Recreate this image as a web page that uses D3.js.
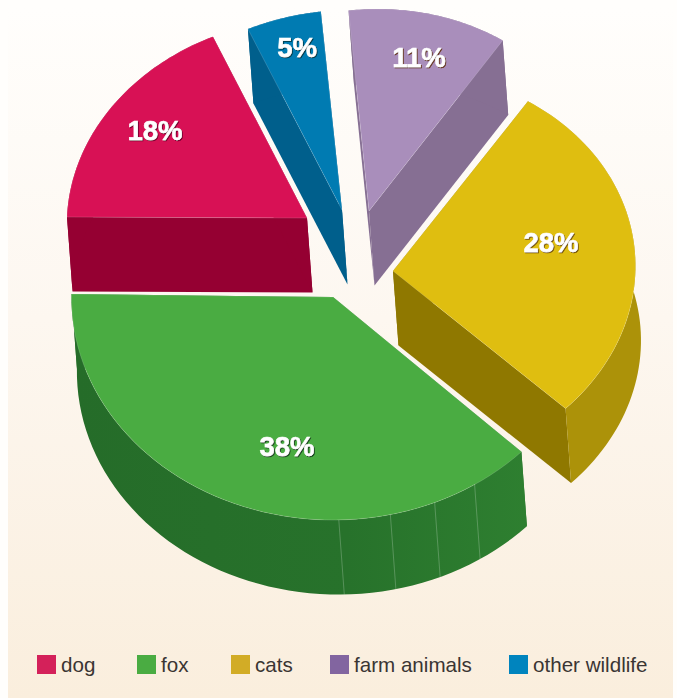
<!DOCTYPE html>
<html>
<head>
<meta charset="utf-8">
<script src="https://cdn.jsdelivr.net/npm/d3@7/dist/d3.min.js"></script>
<style>
html,body{margin:0;padding:0;background:#fff;}
svg{display:block;}
text{font-family:"Liberation Sans",Arial,Helvetica,sans-serif;}
</style>
</head>
<body>
<svg id="chart" width="677" height="698"></svg>
<script>
// Pie data, clockwise from the left edge of the "dog" slice
const categories = ["dog", "other wildlife", "farm animals", "cats", "fox"];
const shares = [18, 5, 11, 28, 38];

// Legend runs in its own order
const legendOrder = ["dog", "fox", "cats", "farm animals", "other wildlife"];

const topColors  = {"dog":"#D81155","other wildlife":"#007BB2","farm animals":"#A98EBB","cats":"#DFBE10","fox":"#4AAC42"};
const sideColors = {"dog":"#950032","other wildlife":"#005F8C","farm animals":"#866F93","cats":"#8F7800","fox":"#2B7A2E"};
const wallColors = {"dog":"#950032","other wildlife":"#005F8C","farm animals":"#866F93","cats":"#AC9209","fox":"url(#foxWall)"};
const legendColors = {"dog":"#D4215A","fox":"#4AAC42","cats":"#D2AC26","farm animals":"#8265A0","other wildlife":"#0084BE"};
const shadowColors = {"dog":"#7A0030","other wildlife":"#003F50","farm animals":"#6B3A20","cats":"#7A5A10","fox":"#1E4A22"};

// Where each wedge's tip sits once pulled apart, and how each wedge reads under the perspective:
// horizontal scale, vertical scale, shear and roll
const tips = {"dog":[307,218],"other wildlife":[342,210],"farm animals":[369,211],"cats":[393,271],"fox":[333,297]};
const perspective = {
  "dog":            [1,    1,     0.045, 0.004],
  "other wildlife": [1,    1,     0.045, 0],
  "farm animals":   [0.98, 1.01,  0.045, 0],
  "cats":           [1.01, 1.005, 0.03,  0],
  "fox":            [1.09, 1.115, 0.015, 0.011]
};
const labelOffsets = {"dog":[-152,-78],"other wildlife":[-45,-153],"farm animals":[50,-144],"cats":[158,-19],"fox":[-46,159]};

// Facet seams on the fox wall, in degrees clockwise from twelve o'clock
const foxSeams = [146.5, 156.4, 166.6, 178];

// Projection of the tilted disc
const RX = 240, RY = 200;
const DEPTH = [5.5, 74.5];

const svg = d3.select("#chart");
const defs = svg.append("defs");

const bg = defs.append("linearGradient").attr("id","panelFill").attr("x1",0).attr("x2",0).attr("y1",0).attr("y2",1);
bg.append("stop").attr("offset",0).attr("stop-color","#FFFEFC");
bg.append("stop").attr("offset",0.45).attr("stop-color","#FDF7F0");
bg.append("stop").attr("offset",1).attr("stop-color","#FAEEDD");

const fw = defs.append("linearGradient").attr("id","foxWall")
  .attr("gradientUnits","userSpaceOnUse").attr("x1",76).attr("x2",527).attr("y1",0).attr("y2",0);
fw.append("stop").attr("offset",0).attr("stop-color","#256C29");
fw.append("stop").attr("offset",0.6).attr("stop-color","#27722B");
fw.append("stop").attr("offset",1).attr("stop-color","#2E7F30");

categories.forEach(c => {
  const f = defs.append("filter").attr("id","lift-"+c.replace(" ","-"))
    .attr("x","-20%").attr("y","-20%").attr("width","140%").attr("height","140%");
  f.append("feDropShadow").attr("dx",1).attr("dy",1).attr("stdDeviation",0.4)
    .attr("flood-color",shadowColors[c]).attr("flood-opacity",1);
});

svg.append("rect").attr("width",677).attr("height",698).attr("fill","#FFFEFC");
svg.append("rect").attr("x",8).attr("y",8).attr("width",665).attr("height",690).attr("fill","url(#panelFill)");

const pie = d3.pie().sort(null).value(d => d.share)
  .startAngle(3*Math.PI/2).endAngle(3*Math.PI/2 + 2*Math.PI);
const slices = pie(categories.map((name,i) => ({name, share: shares[i]})));

const line = d3.line();
const rad = d => d*Math.PI/180;

function project(name, angle){
  const [cx,cy] = tips[name];
  const [sx,sy,shear,roll] = perspective[name];
  const x = RX*sx*Math.sin(angle) + shear*RY*sy*Math.cos(angle);
  const y = -RY*sy*Math.cos(angle) + roll*RX*sx*Math.sin(angle);
  return [cx+x, cy+y];
}
const arcPoints = (name,a0,a1) => d3.range(0,61).map(i => project(name, a0+(a1-a0)*i/60));
const drop = p => [p[0]+DEPTH[0], p[1]+DEPTH[1]];

const layer = svg.append("g");

// Paint from the back of the scene forward
["other wildlife","farm animals","dog","cats","fox"].forEach(name => {
  const d = slices.find(s => s.data.name === name);
  const tip = tips[name];
  const rim = arcPoints(name, d.startAngle, d.endAngle);
  const g = layer.append("g");

  [rim[0], rim[rim.length-1]].forEach(p => {
    g.append("path").attr("d", line([tip,p,drop(p),drop(tip)])+"Z").attr("fill",sideColors[name]);
  });
  g.append("path").attr("d", line(rim.concat(rim.map(drop).reverse()))+"Z").attr("fill",wallColors[name]);

  if(name === "fox"){
    foxSeams.forEach(a => {
      const p = project(name, rad(a));
      g.append("path").attr("d", line([p,drop(p)]))
        .attr("stroke","#fff").attr("stroke-opacity",0.22).attr("stroke-width",1).attr("fill","none");
    });
  }

  g.append("path").attr("d", line([tip].concat(rim))+"Z")
    .attr("fill",topColors[name])
    .attr("stroke","#fff").attr("stroke-opacity",0.22).attr("stroke-width",0.7);
});

// Percentage labels on the wedge tops
slices.forEach(d => {
  const name = d.data.name;
  layer.append("text")
    .attr("x", tips[name][0]+labelOffsets[name][0])
    .attr("y", tips[name][1]+labelOffsets[name][1])
    .attr("text-anchor","middle")
    .attr("font-size",27.5).attr("font-weight","bold").attr("fill","#fff")
    .attr("stroke","#fff").attr("stroke-width",0.5)
    .attr("filter","url(#lift-"+name.replace(" ","-")+")")
    .text(d.data.share+"%");
});

// Legend along the bottom
const legendX = d3.scaleOrdinal().domain(legendOrder).range([37,137,231,330,509]);
const legend = svg.append("g");
legendOrder.forEach(name => {
  legend.append("rect").attr("x",legendX(name)).attr("y",655).attr("width",19).attr("height",19).attr("fill",legendColors[name]);
  legend.append("text").attr("x",legendX(name)+24).attr("y",672)
    .attr("font-size",20.6).attr("fill","#3A3533").text(name);
});
</script>
</body>
</html>
